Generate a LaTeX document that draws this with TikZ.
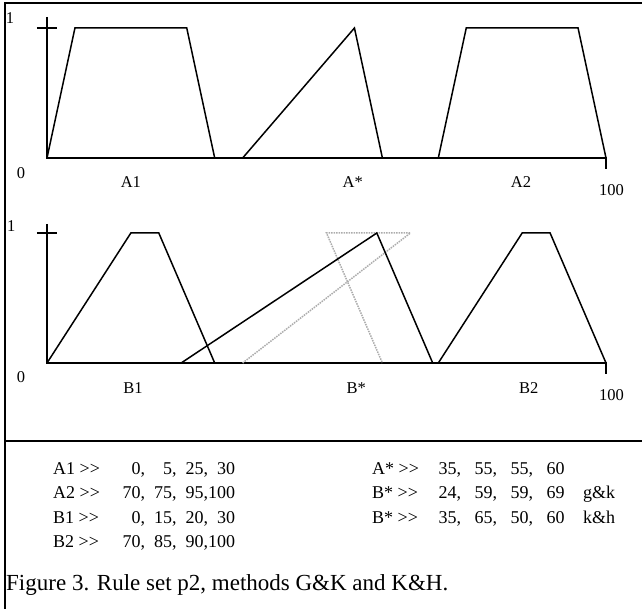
\documentclass[tikz,border=0pt]{standalone}
\usepackage{fontspec}
\setmainfont{Liberation Serif}
\usepackage{xcolor}

% four right-aligned number columns: first width, step, last width
\newcommand{\rulecols}[7]{\makebox[0pt][l]{\makebox[#1][r]{#4}\makebox[#2][r]{#5}\makebox[#2][r]{#6}\makebox[#3][r]{#7}}}

\begin{document}
\begin{tikzpicture}[
    x=1pt, y=-1pt,
    frame line/.style={line width=2.5pt},
    axis line/.style={line width=1.8pt},
    mf line/.style={line width=1.5pt},
    kh line/.style={line width=1.5pt, gray!65, densely dotted},
    tick label/.style={font=\fontsize{16.5}{16.5}\selectfont, inner sep=0pt},
    rule text/.style={font=\fontsize{18}{18}\selectfont, anchor=base west, inner sep=0pt},
    caption text/.style={font=\fontsize{23}{23}\selectfont, anchor=base west, inner sep=0pt}
]

% --- 1. PAGE & FRAME ---
\useasboundingbox (0,0) rectangle (642,609);
\draw[frame line] (5,609) -- (5,3) -- (642,3);
\draw[line width=2pt] (5,441) -- (642,441);

% --- 2. TOP GRAPH (A sets) ---
\begin{scope}[shift={(47,158)}, x=5.59pt, y=130pt]
  % axes
  \draw[axis line] (0,1.085) -- (0,0) -- (100,0) -- (100,-0.085);
  \draw[axis line] (-1.8,1) -- (1.8,1);
  % membership functions
  \draw[mf line] (0,0) -- (5,1) -- (25,1) -- (30,0);
  \draw[mf line] (35,0) -- (55,1) -- (60,0);
  \draw[mf line] (70,0) -- (75,1) -- (95,1) -- (100,0);
  % labels
  \node[tick label] (oneA) at (-6.6,1.08) {1};
  \node[tick label] (zeroA) at (-4.65,-0.115) {0};
  \node[tick label] (labA1) at (15,-0.185) {A1};
  \node[tick label] (labAs) at (54.7,-0.185) {A*};
  \node[tick label] (labA2) at (84.8,-0.185) {A2};
  \node[tick label] (maxA) at (101,-0.25) {100};
\end{scope}

% --- 3. BOTTOM GRAPH (B sets) ---
\begin{scope}[shift={(47,363)}, x=5.59pt, y=130pt]
  % axes
  \draw[axis line] (0,1.07) -- (0,0) -- (100,0) -- (100,-0.085);
  \draw[axis line] (-1.8,1) -- (1.8,1);
  % k&h result (grey, drawn first)
  \draw[kh line] (35,0) -- (65,1) -- (50,1) -- (60,0);
  % membership functions
  \draw[mf line] (0,0) -- (15,1) -- (20,1) -- (30,0);
  \draw[mf line] (24,0) -- (59,1) -- (69,0);
  \draw[mf line] (70,0) -- (85,1) -- (90,1) -- (100,0);
  % labels
  \node[tick label] (oneB) at (-6.4,1.05) {1};
  \node[tick label] (zeroB) at (-4.65,-0.11) {0};
  \node[tick label] (labB1) at (15.4,-0.19) {B1};
  \node[tick label] (labBs) at (55.3,-0.19) {B*};
  \node[tick label] (labB2) at (86.2,-0.19) {B2};
  \node[tick label] (maxB) at (101,-0.245) {100};
\end{scope}

% --- 4. RULE TABLE ---
% left column: A1, A2, B1, B2
\node[rule text] (rowA1) at (53,474) {A1 >{}>};
\node[rule text] (numA1) at (118,474) {\rulecols{26.5pt}{31.5pt}{27pt}{0,}{5,}{25,}{30}};
\node[rule text] (rowA2) at (53,498) {A2 >{}>};
\node[rule text] (numA2) at (118,498) {\rulecols{26.5pt}{31.5pt}{27pt}{70,}{75,}{95,}{100}};
\node[rule text] (rowB1) at (53,523) {B1 >{}>};
\node[rule text] (numB1) at (118,523) {\rulecols{26.5pt}{31.5pt}{27pt}{0,}{15,}{20,}{30}};
\node[rule text] (rowB2) at (53,547) {B2 >{}>};
\node[rule text] (numB2) at (118,547) {\rulecols{26.5pt}{31.5pt}{27pt}{70,}{85,}{90,}{100}};

% right column: A*, B* (g&k), B* (k&h)
\node[rule text] (rowAs) at (372,474) {A* >{}>};
\node[rule text] (numAs) at (436,474) {\rulecols{24.5pt}{36pt}{31.5pt}{35,}{55,}{55,}{60}};
\node[rule text] (rowBgk) at (372,498) {B* >{}>};
\node[rule text] (numBgk) at (436,498) {\rulecols{24.5pt}{36pt}{31.5pt}{24,}{59,}{59,}{69}};
\node[rule text] (rowBkh) at (372,523) {B* >{}>};
\node[rule text] (numBkh) at (436,523) {\rulecols{24.5pt}{36pt}{31.5pt}{35,}{65,}{50,}{60}};
\node[rule text] (tagGK) at (583,498) {g\&k};
\node[rule text] (tagKH) at (583,523) {k\&h};

% --- 5. CAPTION ---
\node[caption text] (caption) at (6,590) {Figure 3. Rule set p2, methods G\&K and K\&H.};

\end{tikzpicture}
\end{document}
